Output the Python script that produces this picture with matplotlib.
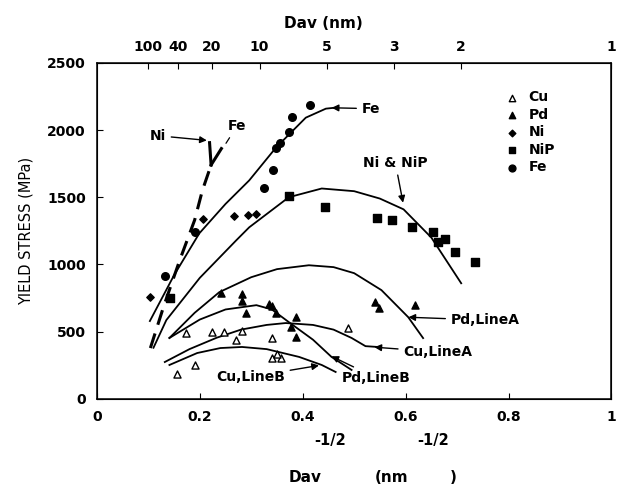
import numpy as np
import matplotlib.pyplot as plt

plt.rcParams['font.family'] = ['DejaVu Sans']

# ---- measured points (x = Dav^-1/2 in nm^-1/2, y = yield stress in MPa) ----
cu_x = [0.155, 0.190, 0.174, 0.224, 0.248, 0.282, 0.271, 0.340, 0.340, 0.357, 0.350, 0.489]
cu_y = [185, 252, 490, 495, 497, 505, 440, 455, 305, 305, 330, 530]

pd_x = [0.242, 0.282, 0.282, 0.290, 0.335, 0.340, 0.348, 0.387, 0.377, 0.387, 0.540, 0.549, 0.619]
pd_y = [790, 780, 730, 640, 705, 690, 640, 608, 534, 460, 720, 675, 700]

ni_x = [0.104, 0.207, 0.267, 0.294, 0.309]
ni_y = [757, 1335, 1360, 1365, 1372]

nip_x = [0.143, 0.373, 0.443, 0.544, 0.574, 0.613, 0.654, 0.663, 0.677, 0.696, 0.735]
nip_y = [750, 1506, 1424, 1343, 1328, 1276, 1239, 1165, 1187, 1091, 1016]

fe_x = [0.133, 0.191, 0.325, 0.342, 0.349, 0.356, 0.373, 0.379, 0.414]
fe_y = [912, 1239, 1565, 1699, 1870, 1900, 1988, 2099, 2188]

# ---- fitted lines as drawn in the figure ----
fe_line_x = [0.103, 0.15, 0.199, 0.25, 0.296, 0.348, 0.406, 0.445, 0.46]
fe_line_y = [579, 920, 1231, 1450, 1625, 1869, 2092, 2159, 2165]

nip_line_x = [0.11, 0.135, 0.20, 0.271, 0.296, 0.373, 0.437, 0.50, 0.55, 0.596, 0.65, 0.708]
nip_line_y = [380, 586, 900, 1180, 1276, 1500, 1565, 1545, 1490, 1410, 1200, 860]

pdA_x = [0.141, 0.19, 0.238, 0.30, 0.35, 0.412, 0.46, 0.50, 0.553, 0.605, 0.634]
pdA_y = [453, 640, 794, 905, 965, 994, 980, 935, 809, 608, 452]

pdB_x = [0.141, 0.20, 0.25, 0.31, 0.34, 0.373, 0.42, 0.456, 0.495]
pdB_y = [453, 590, 665, 697, 665, 571, 440, 312, 215]

cuA_x = [0.132, 0.18, 0.233, 0.28, 0.33, 0.367, 0.42, 0.46, 0.495, 0.522, 0.55]
cuA_y = [274, 370, 455, 515, 550, 564, 550, 515, 453, 392, 385]

cuB_x = [0.141, 0.195, 0.24, 0.282, 0.33, 0.393, 0.437, 0.464]
cuB_y = [252, 341, 378, 386, 370, 312, 252, 200]

dash_x = [0.104, 0.13, 0.161, 0.19, 0.205, 0.222]
dash_y = [378, 690, 1031, 1330, 1550, 1740]
ni_tip = ([0.222, 0.219], [1740, 1906])
fe_tip = ([0.222, 0.242], [1740, 1862])

top_dav = [100, 40, 20, 10, 5, 3, 2, 1]

fig = plt.figure(figsize=(6.17, 4.87), dpi=100)
ax = fig.add_axes([0.157, 0.181, 0.834, 0.690])

lw = 1.3
ax.plot(fe_line_x, fe_line_y, 'k-', lw=lw)
ax.plot(nip_line_x, nip_line_y, 'k-', lw=lw)
ax.plot(pdA_x, pdA_y, 'k-', lw=lw)
ax.plot(pdB_x, pdB_y, 'k-', lw=lw)
ax.plot(cuA_x, cuA_y, 'k-', lw=lw)
ax.plot(cuB_x, cuB_y, 'k-', lw=lw)
ax.plot(dash_x, dash_y, 'k', lw=2.2, ls=(0, (5, 3)))
ax.plot(*ni_tip, 'k-', lw=2.2)
ax.plot(*fe_tip, 'k-', lw=2.2)

ax.scatter(cu_x, cu_y, marker='^', facecolors='white', edgecolors='k', s=26, lw=1.0, label='Cu', zorder=3)
ax.scatter(pd_x, pd_y, marker='^', c='k', s=26, label='Pd', zorder=3)
ax.scatter(ni_x, ni_y, marker='D', c='k', s=14, label='Ni', zorder=3)
ax.scatter(nip_x, nip_y, marker='s', c='k', s=26, label='NiP', zorder=3)
ax.scatter(fe_x, fe_y, marker='o', c='k', s=30, label='Fe', zorder=3)

leg = ax.legend(loc='upper left', bbox_to_anchor=(0.755, 0.955), frameon=False,
                handletextpad=0.2, labelspacing=0.25,
                prop={'weight': 'bold', 'size': 10}, markerscale=0.9)

arr = dict(arrowstyle='-|>', color='k', lw=1.0, mutation_scale=10)
tkw = dict(fontsize=10, fontweight='bold')
ax.annotate('Ni', xy=(0.219, 1921), xytext=(0.118, 1958), va='center', ha='center', arrowprops=arr, **tkw)
ax.annotate('Fe', xy=(0.248, 1884), xytext=(0.273, 2033), va='center', ha='center',
            arrowprops=dict(arrowstyle='-', color='k', lw=0.9), **tkw)
ax.annotate('Fe', xy=(0.451, 2166), xytext=(0.515, 2159), va='center', ha='left', arrowprops=arr, **tkw)
ax.annotate('Ni & NiP', xy=(0.596, 1439), xytext=(0.58, 1758), va='center', ha='center', arrowprops=arr, **tkw)
ax.annotate('Pd,LineA', xy=(0.600, 608), xytext=(0.688, 586), va='center', ha='left', arrowprops=arr, **tkw)
ax.annotate('Cu,LineA', xy=(0.534, 386), xytext=(0.596, 349), va='center', ha='left', arrowprops=arr, **tkw)
ax.annotate('Cu,LineB', xy=(0.437, 252), xytext=(0.298, 163), va='center', ha='center', arrowprops=arr, **tkw)
ax.annotate('Pd,LineB', xy=(0.451, 326), xytext=(0.543, 156), va='center', ha='center', arrowprops=arr, **tkw)

ax.set_xlim(0, 1)
ax.set_ylim(0, 2500)
ax.set_xticks([0, 0.2, 0.4, 0.6, 0.8, 1])
ax.set_xticklabels(['0', '0.2', '0.4', '0.6', '0.8', '1'])
ax.set_yticks([0, 500, 1000, 1500, 2000, 2500])
ax.tick_params(direction='in', length=4, width=0.8, labelsize=10, pad=8)
for lab in ax.get_xticklabels() + ax.get_yticklabels():
    lab.set_fontweight('bold')
for s in ax.spines.values():
    s.set_linewidth(1.1)

top = ax.twiny()
top.set_xlim(0, 1)
top.set_xticks([d ** -0.5 for d in top_dav])
top.set_xticklabels([str(d) for d in top_dav])
top.tick_params(direction='in', length=4, width=0.8, labelsize=10, pad=6)
for lab in top.get_xticklabels():
    lab.set_fontweight('bold')
top.set_xlabel('Dav (nm)', fontsize=11, fontweight='bold', labelpad=9, x=0.44)

ax.set_ylabel('YIELD STRESS (MPa)', fontsize=10.5, labelpad=10)

# bottom label, laid out as in the scanned original
fig.text(330 / 617, 1 - 440 / 487, '-1/2', ha='center', va='center', fontsize=10.5, fontweight='bold')
fig.text(433 / 617, 1 - 440 / 487, '-1/2', ha='center', va='center', fontsize=10.5, fontweight='bold')
fig.text(305 / 617, 1 - 477 / 487, 'Dav', ha='center', va='center', fontsize=11, fontweight='bold')
fig.text(392 / 617, 1 - 477 / 487, '(nm', ha='center', va='center', fontsize=11, fontweight='bold')
fig.text(453 / 617, 1 - 477 / 487, ')', ha='center', va='center', fontsize=11, fontweight='bold')

fig.savefig('out.png', dpi=100)
